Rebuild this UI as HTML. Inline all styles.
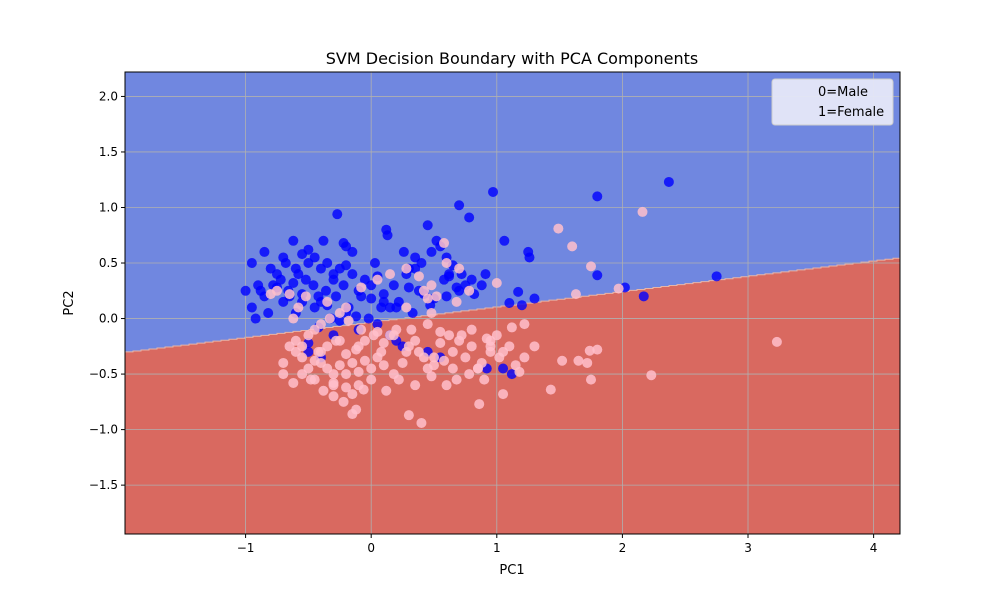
<!DOCTYPE html>
<html><head><meta charset="utf-8"><style>
body{margin:0;background:#fff;font-family:"Liberation Sans","DejaVu Sans",sans-serif}
</style></head><body>
<svg id="chart" width="1000" height="600" xmlns="http://www.w3.org/2000/svg" font-family="DejaVu Sans, Liberation Sans, sans-serif">
<rect width="1000" height="600" fill="#fff"/>
<text x="512" y="64" font-size="16" text-anchor="middle">SVM Decision Boundary with PCA Components</text>
<g id="plot"></g>
<text x="512" y="574" font-size="13" text-anchor="middle">PC1</text>
<text x="73" y="303" font-size="13" text-anchor="middle" transform="rotate(-90 73 303)">PC2</text>
<g>
<rect x="772" y="79" width="121" height="46" rx="3" fill="#e6e8f8" fill-opacity="0.95" stroke="#ccc"/>
<text x="818" y="96" font-size="13">0=Male</text>
<text x="818" y="116" font-size="13">1=Female</text>
</g>
</svg>
<script>
const xTicks=[-1,0,1,2,3,4];
const yTicks=[-1.5,-1.0,-0.5,0.0,0.5,1.0,1.5,2.0];
const boundaryIntercept=-0.03, boundarySlope=0.138;
const maleX=[2.37,1.8,0.97,0.7,0.78,-0.27,2.75,2.17,2.02,1.8,1.25,1.26,1.06,0.91,1.3,1.17,1.1,1.2,1.12,0.45,0.52,0.35,0.12,0.13,0.26,0.03,-0.2,-0.15,-0.22,-0.38,-0.5,-0.62,-0.7,-0.85,-0.95,-1.0,-0.9,-0.8,-0.75,-0.68,-0.6,-0.55,-0.5,-0.45,-0.4,-0.35,-0.3,-0.25,-0.85,-0.78,-0.72,-0.66,-0.58,-0.52,-0.46,-0.42,-0.36,-0.3,-0.22,-0.15,-0.1,-0.05,0.0,0.05,0.1,0.18,0.22,0.28,0.35,0.4,0.48,0.55,0.6,0.65,0.72,0.8,0.88,0.7,0.6,0.5,0.42,0.3,0.2,0.1,0.0,-0.08,-0.18,-0.28,-0.4,-0.55,-0.65,-0.75,-0.88,-0.95,-0.6,-0.45,-0.32,-0.2,-0.1,0.05,0.15,0.2,0.25,-0.5,-0.4,-0.3,-0.42,-0.35,0.38,0.62,0.75,0.82,0.68,0.58,0.47,0.33,0.15,-0.12,-0.02,0.08,-0.7,-0.82,-0.92,-0.5,-0.25,0.45,0.55,0.92,1.05,0.3,0.62,-0.62,-0.55,-0.2,0.1];
const maleY=[1.23,1.1,1.14,1.02,0.91,0.94,0.38,0.2,0.28,0.39,0.6,0.55,0.7,0.4,0.18,0.24,0.14,0.12,-0.5,0.84,0.7,0.55,0.8,0.75,0.6,0.5,0.65,0.6,0.68,0.7,0.62,0.7,0.55,0.6,0.5,0.25,0.3,0.45,0.4,0.5,0.45,0.58,0.5,0.55,0.45,0.5,0.4,0.45,0.2,0.3,0.35,0.25,0.4,0.35,0.3,0.2,0.25,0.35,0.3,0.4,0.25,0.35,0.3,0.38,0.22,0.3,0.15,0.4,0.45,0.5,0.6,0.65,0.55,0.48,0.4,0.35,0.3,0.25,0.2,0.18,0.22,0.28,0.1,0.15,0.18,0.2,0.1,0.2,0.15,0.15,0.2,0.28,0.25,0.1,0.05,0.1,0.0,0.05,-0.1,-0.05,-0.15,-0.2,-0.25,-0.3,-0.35,-0.15,-0.08,0.12,0.25,0.38,0.3,0.22,0.28,0.35,0.12,0.05,0.1,0.02,0.0,0.1,0.15,0.05,0.0,-0.22,-0.02,-0.3,-0.35,-0.45,-0.45,0.45,0.4,0.32,0.22,0.48];
const femaleX=[3.23,2.23,2.16,1.49,1.6,1.75,1.63,1.97,1.43,1.75,1.8,1.74,1.72,1.52,1.65,0.86,1.05,0.4,0.3,-0.15,-0.12,-0.06,1.3,1.22,1.15,1.05,0.95,0.88,0.8,0.72,0.65,0.55,0.5,0.45,0.38,0.3,0.25,0.18,0.1,0.05,0.0,-0.05,-0.1,-0.15,-0.2,-0.25,-0.3,-0.35,-0.4,-0.45,-0.5,-0.55,-0.6,-0.65,-0.7,-0.6,-0.5,-0.42,-0.35,-0.28,-0.2,-0.12,-0.05,0.02,0.1,0.2,0.28,0.35,0.42,0.5,0.58,0.65,0.75,0.85,0.95,1.02,1.1,1.18,0.9,0.78,0.68,0.6,0.48,0.35,0.22,0.12,0.0,-0.1,-0.2,-0.3,-0.38,-0.48,-0.55,-0.62,-0.7,-0.3,-0.22,-0.15,-0.45,-0.4,-0.33,-0.25,-0.18,-0.08,0.05,0.15,0.32,0.45,0.55,0.62,0.7,0.8,0.92,1.0,1.12,0.52,0.42,0.28,-0.52,-0.58,-0.65,-0.75,-0.8,-0.62,-0.35,-0.2,0.15,0.28,0.38,0.48,0.6,0.7,0.78,1.0,0.68,0.48,0.85,0.95,1.22,0.05,-0.08,0.58,0.45,-0.45,-0.3,-0.55,-0.4,-0.25,-0.1,0.08,0.18];
const femaleY=[-0.21,-0.51,0.96,0.81,0.65,0.47,0.22,0.27,-0.64,-0.55,-0.28,-0.29,-0.4,-0.38,-0.38,-0.77,-0.68,-0.94,-0.87,-0.86,-0.82,-0.64,-0.25,-0.35,-0.42,-0.3,-0.2,-0.4,-0.25,-0.15,-0.3,-0.22,-0.35,-0.45,-0.3,-0.25,-0.4,-0.5,-0.42,-0.35,-0.45,-0.38,-0.48,-0.4,-0.5,-0.42,-0.5,-0.45,-0.4,-0.38,-0.45,-0.35,-0.3,-0.25,-0.4,-0.2,-0.15,-0.3,-0.25,-0.2,-0.32,-0.28,-0.2,-0.15,-0.22,-0.1,-0.3,-0.2,-0.35,-0.42,-0.38,-0.45,-0.35,-0.45,-0.3,-0.35,-0.25,-0.48,-0.55,-0.5,-0.55,-0.6,-0.52,-0.6,-0.55,-0.65,-0.55,-0.6,-0.62,-0.58,-0.65,-0.55,-0.5,-0.58,-0.5,-0.7,-0.75,-0.68,-0.1,-0.05,0.0,0.05,-0.02,-0.1,-0.12,-0.15,-0.1,-0.05,-0.12,-0.15,-0.2,-0.1,-0.18,-0.15,-0.08,0.2,0.25,0.1,0.2,0.1,0.22,0.25,0.22,0.0,0.15,0.1,0.4,0.45,0.38,0.3,0.5,0.45,0.25,0.32,0.15,0.05,-0.45,-0.25,-0.05,0.35,0.28,0.68,0.18,-0.55,-0.6,-0.25,-0.3,-0.2,-0.25,-0.3,-0.15];
const X0=125,X1=900,Y0=72,Y1=534,xmin=-1.96,xmax=4.21,ymin=-1.94,ymax=2.22;
const sx=v=>X0+(v-xmin)/(xmax-xmin)*(X1-X0);
const sy=v=>Y1-(v-ymin)/(ymax-ymin)*(Y1-Y0);
const NS='http://www.w3.org/2000/svg';
const g=document.getElementById('plot');
function mk(t,a){const e=document.createElementNS(NS,t);for(const k in a)e.setAttribute(k,a[k]);g.appendChild(e);return e;}
let bg=mk('rect',{x:X0,y:Y0,width:X1-X0,height:Y1-Y0,fill:'#7087e0'});


let pts=`${X0},${Y1} `;
for(let px=X0;px<=X1;px+=8){const xv=xmin+(px-X0)/(X1-X0)*(xmax-xmin);const y=sy(boundaryIntercept+boundarySlope*xv);pts+=`${px},${y} ${Math.min(px+8,X1)},${y} `;}
pts+=`${X1},${Y1}`;
let reg=mk('polygon',{points:pts,fill:'#d96960',stroke:'#e8b5a8','stroke-width':1});


xTicks.forEach(t=>{const x=sx(t);
 let l=mk('line',{x1:x,x2:x,y1:Y0,y2:Y1,stroke:'#b0b0b0','stroke-width':0.8});
 
 
 mk('line',{x1:x,x2:x,y1:Y1,y2:Y1+4,stroke:'#000'});
 let tx=mk('text',{x:x,y:Y1+18,'font-size':12,'text-anchor':'middle'});tx.textContent=(t<0?'−'+(-t):t);
 
 });
yTicks.forEach(t=>{const y=sy(t);
 let l=mk('line',{x1:X0,x2:X1,y1:y,y2:y,stroke:'#b0b0b0','stroke-width':0.8});
 
 
 mk('line',{x1:X0-4,x2:X0,y1:y,y2:y,stroke:'#000'});
 let tx=mk('text',{x:X0-7,y:y+4,'font-size':12,'text-anchor':'end'});tx.textContent=(t<0?'−'+(-t).toFixed(1):t.toFixed(1));
 
 });
maleX.forEach((v,i)=>{if(maleY[i]===undefined)return;let c=mk('circle',{cx:sx(v),cy:sy(maleY[i]),r:5,fill:'#0000ff','fill-opacity':0.8});
 
 });
femaleX.forEach((v,i)=>{if(femaleY[i]===undefined)return;let c=mk('circle',{cx:sx(v),cy:sy(femaleY[i]),r:5,fill:'#ffc0cb','fill-opacity':0.85});
 
 });
let fr=mk('rect',{x:X0,y:Y0,width:X1-X0,height:Y1-Y0,fill:'none',stroke:'#000','stroke-width':1});


</script>
</body></html>
